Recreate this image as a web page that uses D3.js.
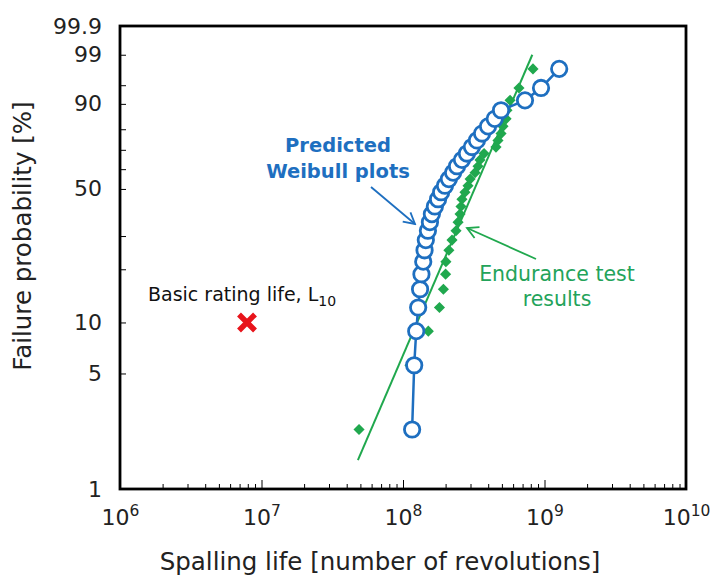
<!DOCTYPE html>
<html>
<head>
<meta charset="utf-8">
<script src="https://cdn.jsdelivr.net/npm/d3@7"></script>
<style>
body { margin: 0; background: #fff; }
text { font-family: "DejaVu Sans", Verdana, sans-serif; }
</style>
</head>
<body>
<svg id="chart" width="717" height="576"></svg>
<script>

// ------------------------------ Data ------------------------------

// failure probability of each ranked sample [%]
var failureProb = [2.3, 5.6, 8.9, 12.2, 15.5, 18.8, 22.0, 25.3, 28.6, 31.9,
	35.2, 38.5, 41.8, 45.1, 48.4, 51.6, 54.9, 58.2, 61.5, 64.8,
	68.1, 71.4, 74.7, 78.0, 81.3, 84.5, 87.8, 91.1, 94.4, 97.7];

// predicted spalling life [revolutions]
var predictedLife = [1.16e8, 1.20e8, 1.24e8, 1.28e8, 1.32e8, 1.35e8, 1.39e8, 1.42e8, 1.45e8, 1.50e8,
	1.55e8, 1.60e8, 1.68e8, 1.77e8, 1.86e8, 1.98e8, 2.11e8, 2.26e8, 2.41e8, 2.61e8,
	2.83e8, 3.07e8, 3.33e8, 3.62e8, 3.99e8, 4.45e8, 4.93e8, 7.28e8, 9.45e8, 12.7e8];

// endurance test results [revolutions]
var enduranceLife = [0.489e8, 1.12e8, 1.51e8, 1.81e8, 1.93e8, 2.00e8, 2.01e8, 2.11e8, 2.22e8, 2.37e8,
	2.45e8, 2.53e8, 2.57e8, 2.61e8, 2.74e8, 2.88e8, 2.98e8, 3.23e8, 3.39e8, 3.50e8,
	3.74e8, 4.54e8, 4.69e8, 4.93e8, 5.09e8, 5.35e8, 5.43e8, 5.71e8, 6.60e8, 8.29e8];

// fitted Weibull line of the endurance test (end points)
var fitLine = [[4.8e7, 1.5], [8.2e8, 99.0]];

// basic rating life L10
var ratingLife = [[7.9e6, 10]];

var xTickLabels = [6, 7, 8, 9, 10];                 // exponents
var yTickLabels = [1, 5, 10, 50, 90, 99, 99.9];     // [%]
var yMinorTicks = [20, 30, 60, 70, 80, 95];         // [%]

// ------------------------------ Layout ------------------------------

var plotLeft = 120, plotRight = 686, plotTop = 26, plotBottom = 489;
var blue = "#1e6fc0", green = "#20a84e", greenText = "#23a35a", red = "#e8141b";
var tickFont = 22, titleFont = 24.5;

var weibull = p => Math.log(-Math.log(1 - p / 100));

var x = d3.scaleLog().domain([1e6, 1e10]).range([plotLeft, plotRight]);
var yw = d3.scaleLinear().domain([weibull(1), weibull(99.9)]).range([plotBottom, plotTop]);
var y = p => yw(weibull(p));

var svg = d3.select("#chart");

// ---------- axes

var xMinor = [];
for (var e = 6; e < 10; e++)
	for (var m = 2; m < 10; m++) xMinor.push(m * Math.pow(10, e));

svg.append("g")
	.attr("transform", `translate(0, ${plotBottom})`)
	.call(d3.axisBottom(x).tickValues(xMinor).tickSize(-5).tickFormat(""))
	.call(g => g.select(".domain").remove())
	.selectAll("line").attr("stroke", "#000").attr("stroke-width", 1);

var xMajor = svg.append("g")
	.attr("transform", `translate(0, ${plotBottom})`)
	.call(d3.axisBottom(x).tickValues(xTickLabels.map(e => Math.pow(10, e))).tickSize(-9).tickPadding(20).tickFormat(""))
	.call(g => g.select(".domain").remove());
xMajor.selectAll("line").attr("stroke", "#000").attr("stroke-width", 1);

xMajor.selectAll(".tick text")
	.attr("font-size", tickFont)
	.attr("fill", "#222")
	.each(function(d) {
		var t = d3.select(this);
		t.append("tspan").text("10");
		t.append("tspan").attr("dy", -9).attr("font-size", 15.5).text(Math.round(Math.log10(d)));
	});

svg.append("g")
	.attr("transform", `translate(${plotLeft}, 0)`)
	.call(d3.axisLeft(yw).tickValues(yMinorTicks.map(weibull)).tickSize(-6).tickFormat(""))
	.call(g => g.select(".domain").remove())
	.selectAll("line").attr("stroke", "#000").attr("stroke-width", 1);

var yAxis = svg.append("g")
	.attr("transform", `translate(${plotLeft}, 0)`)
	.call(d3.axisLeft(yw).tickValues(yTickLabels.map(weibull)).tickSize(-6).tickPadding(18)
		.tickFormat((d, i) => yTickLabels[i]))
	.call(g => g.select(".domain").remove());
yAxis.selectAll("line").attr("stroke", "#000").attr("stroke-width", 1);
yAxis.selectAll("text").attr("font-size", tickFont).attr("fill", "#222");

// frame
svg.append("rect")
	.attr("x", plotLeft).attr("y", plotTop)
	.attr("width", plotRight - plotLeft).attr("height", plotBottom - plotTop)
	.attr("fill", "none").attr("stroke", "#000").attr("stroke-width", 2.8);

// axis titles
svg.append("text")
	.attr("x", 380).attr("y", 570)
	.attr("text-anchor", "middle").attr("font-size", titleFont).attr("fill", "#222")
	.text("Spalling life [number of revolutions]");

svg.append("text")
	.attr("transform", "translate(31, 236) rotate(-90)")
	.attr("text-anchor", "middle").attr("font-size", titleFont).attr("fill", "#222")
	.text("Failure probability [%]");

// ---------- marks

svg.append("path")
	.attr("d", d3.line()(fitLine.map(d => [x(d[0]), y(d[1])])))
	.attr("stroke", green).attr("stroke-width", 2).attr("fill", "none");

svg.append("g").selectAll("path")
	.data(enduranceLife)
	.join("path")
	.attr("transform", (d, i) => `translate(${x(d)}, ${y(failureProb[i])}) rotate(45)`)
	.attr("d", d3.symbol(d3.symbolSquare, 62)())
	.attr("fill", green);

svg.append("path")
	.attr("d", d3.line()(predictedLife.map((d, i) => [x(d), y(failureProb[i])])))
	.attr("stroke", blue).attr("stroke-width", 2.5).attr("fill", "none");

svg.append("g").selectAll("circle")
	.data(predictedLife)
	.join("circle")
	.attr("cx", d => x(d))
	.attr("cy", (d, i) => y(failureProb[i]))
	.attr("r", 7.7)
	.attr("fill", "#fff").attr("stroke", blue).attr("stroke-width", 2.8);

svg.append("g").selectAll("path")
	.data(ratingLife)
	.join("path")
	.attr("transform", d => `translate(${x(d[0])}, ${y(d[1])})`)
	.attr("d", "M-8,-8L8,8M8,-8L-8,8")
	.attr("stroke", red).attr("stroke-width", 5.5).attr("fill", "none");

// ---------- annotations

svg.append("defs").selectAll("marker")
	.data([["arrowBlue", blue], ["arrowGreen", green]])
	.join("marker")
	.attr("id", d => d[0])
	.attr("viewBox", "-12 -7 14 14")
	.attr("refX", 0).attr("refY", 0)
	.attr("markerWidth", 14).attr("markerHeight", 14)
	.attr("markerUnits", "userSpaceOnUse")
	.attr("orient", "auto")
	.append("path")
	.attr("d", "M-11,-6L0,0L-11,6")
	.attr("fill", "none").attr("stroke", d => d[1]).attr("stroke-width", 1.8);

svg.append("line")
	.attr("x1", 371).attr("y1", 187).attr("x2", 415).attr("y2", 224)
	.attr("stroke", blue).attr("stroke-width", 1.8)
	.attr("marker-end", "url(#arrowBlue)");

svg.append("line")
	.attr("x1", 536).attr("y1", 259).attr("x2", 467).attr("y2", 228)
	.attr("stroke", green).attr("stroke-width", 1.8)
	.attr("marker-end", "url(#arrowGreen)");

svg.append("text")
	.attr("x", 338).attr("y", 152)
	.attr("text-anchor", "middle").attr("font-size", 19.5).attr("font-weight", "bold").attr("fill", blue)
	.text("Predicted");
svg.append("text")
	.attr("x", 338).attr("y", 178)
	.attr("text-anchor", "middle").attr("font-size", 19.5).attr("font-weight", "bold").attr("fill", blue)
	.text("Weibull plots");

svg.append("text")
	.attr("x", 557).attr("y", 281)
	.attr("text-anchor", "middle").attr("font-size", 20.5).attr("fill", greenText)
	.text("Endurance test");
svg.append("text")
	.attr("x", 557).attr("y", 306)
	.attr("text-anchor", "middle").attr("font-size", 20.5).attr("fill", greenText)
	.text("results");

var l10 = svg.append("text")
	.attr("x", 148).attr("y", 301)
	.attr("font-size", 19).attr("fill", "#111");
l10.append("tspan").text("Basic rating life, L");
l10.append("tspan").attr("dy", 5).attr("font-size", 14).text("10");

</script>
</body>
</html>
